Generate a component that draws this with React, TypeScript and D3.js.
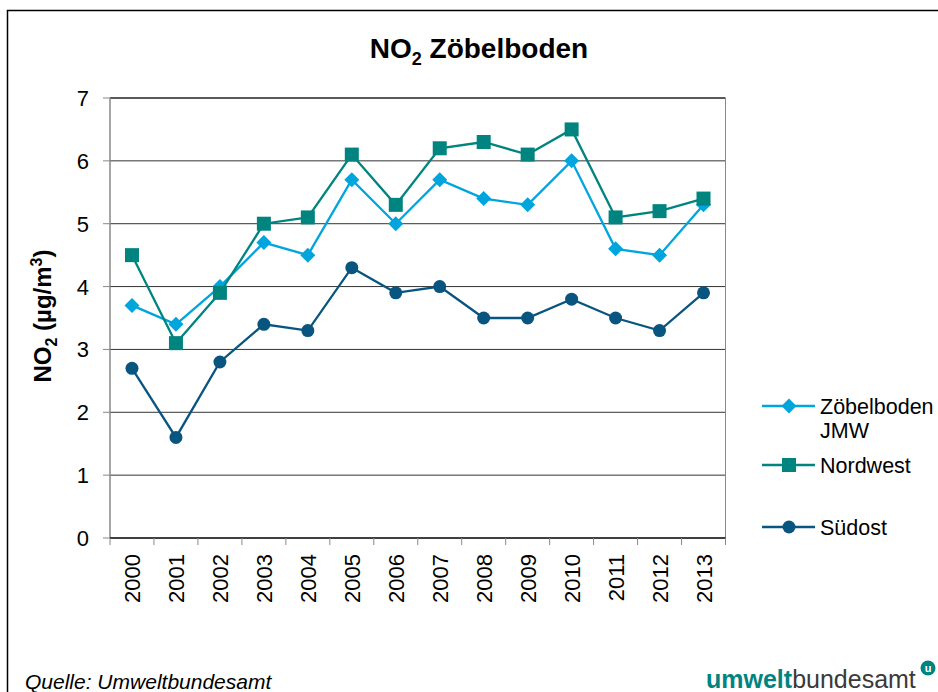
import React from "react";
import * as d3 from "d3";

const years = ["2000","2001","2002","2003","2004","2005","2006","2007","2008","2009","2010","2011","2012","2013"];
const zoebelboden = [3.7,3.4,4.0,4.7,4.5,5.7,5.0,5.7,5.4,5.3,6.0,4.6,4.5,5.3];
const nordwest = [4.5,3.1,3.9,5.0,5.1,6.1,5.3,6.2,6.3,6.1,6.5,5.1,5.2,5.4];
const suedost = [2.7,1.6,2.8,3.4,3.3,4.3,3.9,4.0,3.5,3.5,3.8,3.5,3.3,3.9];
const yTicks = [0,1,2,3,4,5,6,7];

const C_LIGHT = "#00a5de";
const C_TEAL = "#00847f";
const C_DARK = "#08557f";

const FONT = "Liberation Sans, Arial, sans-serif";

export default function App() {
  const W = 938, H = 692;
  const left = 110, right = 725.5, top = 98, bottom = 538;
  const x = d3.scaleBand<string>().domain(years).range([left, right]);
  const y = d3.scaleLinear().domain([0, 7]).range([bottom, top]);
  const cx = (i: number) => (x(years[i]) as number) + x.bandwidth() / 2;
  const line = d3.line<number>().x((_, i) => cx(i)).y(d => y(d));

  const series = [
    { name: "z", data: zoebelboden, color: C_LIGHT, marker: "diamond" },
    { name: "n", data: nordwest, color: C_TEAL, marker: "square" },
    { name: "s", data: suedost, color: C_DARK, marker: "circle" },
  ];

  const marker = (m: string, px: number, py: number, color: string, key: any) => {
    if (m === "square") return <rect key={key} x={px - 7} y={py - 7} width={14} height={14} fill={color} />;
    if (m === "circle") return <circle key={key} cx={px} cy={py} r={6.5} fill={color} />;
    return <path key={key} d={`M${px},${py - 7.5}L${px + 7.5},${py}L${px},${py + 7.5}L${px - 7.5},${py}Z`} fill={color} />;
  };

  const legend = [
    { lines: ["Zöbelboden", "JMW"], color: C_LIGHT, marker: "diamond", y: 406 },
    { lines: ["Nordwest"], color: C_TEAL, marker: "square", y: 465 },
    { lines: ["Südost"], color: C_DARK, marker: "circle", y: 527 },
  ];

  return (
    <svg width={W} height={H} style={{ position: "absolute", left: 0, top: 0, background: "#fff" }} fontFamily={FONT}>
      <rect x={0} y={0} width={W} height={H} fill="#fff" />
      <path d={`M7.5,${H + 5}V10.5H${W + 5}`} fill="none" stroke="#000" strokeWidth={1.5} />
      <text x={479} y={58} textAnchor="middle" fontSize={28} fontWeight="bold">
        NO<tspan fontSize={18} dy={7}>2</tspan><tspan dy={-7}> Zöbelboden</tspan>
      </text>
      {yTicks.map(t => (
        <g key={t}>
          {t > 0 && <line x1={left} x2={right} y1={y(t)} y2={y(t)} stroke={t === 7 ? "#222" : "#333"} strokeWidth={t === 7 ? 1.5 : 1} />}
          <line x1={left - 7} x2={left} y1={y(t)} y2={y(t)} stroke="#888" strokeWidth={1} />
          <text x={89} y={y(t) + 8} textAnchor="end" fontSize={22}>{t}</text>
        </g>
      ))}
      <line x1={right} x2={right} y1={top} y2={bottom} stroke="#888" strokeWidth={1} />
      <line x1={left} x2={left} y1={top} y2={bottom} stroke="#888" strokeWidth={1.5} />
      <line x1={left} x2={right} y1={bottom} y2={bottom} stroke="#000" strokeWidth={1.5} />
      {years.map((yr, i) => (
        <g key={yr}>
          <line x1={(x(yr) as number)} x2={(x(yr) as number)} y1={bottom} y2={bottom + 7} stroke="#888" />
          <text transform={`translate(${cx(i) + 8},${bottom + 16}) rotate(-90)`} textAnchor="end" fontSize={22}>{yr}</text>
        </g>
      ))}
      <line x1={right} x2={right} y1={bottom} y2={bottom + 7} stroke="#888" />
      <text transform={`translate(51,316) rotate(-90)`} textAnchor="middle" fontSize={24} fontWeight="bold">
        NO<tspan fontSize={16} dy={6}>2</tspan><tspan dy={-6}> (µg/m</tspan><tspan fontSize={16} dy={-9}>3</tspan><tspan dy={9}>)</tspan>
      </text>
      {series.map(s => (
        <g key={s.name}>
          <path d={line(s.data) as string} fill="none" stroke={s.color} strokeWidth={2.3} />
          {s.data.map((v, i) => marker(s.marker, cx(i), y(v), s.color, i))}
        </g>
      ))}
      {legend.map((l, k) => (
        <g key={k}>
          <line x1={762} x2={815} y1={l.y} y2={l.y} stroke={l.color} strokeWidth={2.3} />
          {marker(l.marker, 789, l.y, l.color, "m")}
          {l.lines.map((t, j) => (
            <text key={j} x={820} y={l.y + 8 + j * 24} fontSize={21.5}>{t}</text>
          ))}
        </g>
      ))}
      <text x={25} y={689} fontSize={21} fontStyle="italic">Quelle: Umweltbundesamt</text>
      <text x={706} y={688} fontSize={25} fill="#3a3a3a">
        <tspan fill="#00847f" fontWeight="bold">umwelt</tspan>bundesamt
      </text>
      <circle cx={928} cy={668} r={7.5} fill="#00847f" />
      <text x={928} y={672} textAnchor="middle" fontSize={11} fontWeight="bold" fill="#fff">u</text>
    </svg>
  );
}
